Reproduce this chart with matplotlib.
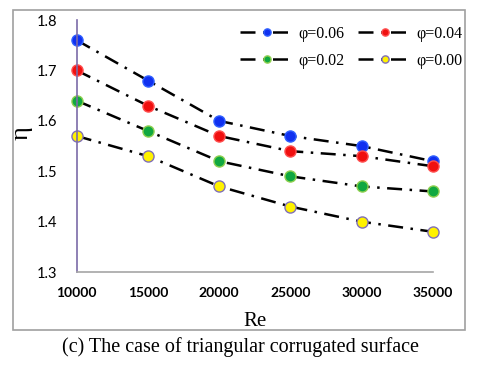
import matplotlib.pyplot as plt
from matplotlib.patches import Rectangle

# Data
re_vals = [10000, 15000, 20000, 25000, 30000, 35000]
eta_006 = [1.76, 1.68, 1.60, 1.57, 1.55, 1.52]
eta_004 = [1.70, 1.63, 1.57, 1.54, 1.53, 1.51]
eta_002 = [1.64, 1.58, 1.52, 1.49, 1.47, 1.46]
eta_000 = [1.57, 1.53, 1.47, 1.43, 1.40, 1.38]
labels = ["φ=0.06", "φ=0.04", "φ=0.02", "φ=0.00"]

series = [eta_006, eta_004, eta_002, eta_000]
fills = ["#1030F0", "#F01010", "#10A840", "#FFF200"]
edges = ["#3060FF", "#FF5050", "#90D050", "#8070B8"]

fig = plt.figure(figsize=(4.8, 3.79), dpi=100)
ax = fig.add_axes([0.160, 0.282, 0.742, 0.665])

# outer frame of the chart area
fig.patches.append(Rectangle((0.027, 0.129), 0.942, 0.845, transform=fig.transFigure,
                             fill=False, edgecolor="#A0A0A0", linewidth=1.2))

handles = []
for y, lab, fc, ec in zip(series, labels, fills, edges):
    h, = ax.plot(re_vals, y, color="black", linewidth=1.8, linestyle=(0, (6, 3, 1, 3)),
                 marker="o", markersize=8, markerfacecolor=fc, markeredgecolor=ec,
                 markeredgewidth=1.0, label=lab, clip_on=False)
    handles.append(h)

ax.set_xlim(10000, 35000)
ax.set_ylim(1.3, 1.8)
ax.set_xticks(re_vals)
ax.set_yticks([1.3, 1.4, 1.5, 1.6, 1.7, 1.8])
ax.set_yticklabels(["1.3", "1.4", "1.5", "1.6", "1.7", "1.8"], family="Lato", fontsize=10.5)
ax.set_xticklabels([str(v) for v in re_vals], family="Lato", fontweight="bold", fontsize=10)
ax.tick_params(length=0)
ax.tick_params(axis="y", pad=14)
ax.tick_params(axis="x", pad=11)

for s in ["top", "right"]:
    ax.spines[s].set_visible(False)
ax.spines["left"].set_color("#7C6BA8")
ax.spines["left"].set_linewidth(1.2)
ax.spines["bottom"].set_color("#A6A6A6")
ax.spines["bottom"].set_linewidth(1.2)

ax.set_xlabel("Re", family="Liberation Serif", fontsize=15, labelpad=9)
ax.set_ylabel("η", family="Liberation Serif", fontsize=19)
ax.yaxis.set_label_coords(-0.125, 0.55)

# row-wise legend order: 0.06, 0.04 / 0.02, 0.00
order = [0, 2, 1, 3]
ax.legend([handles[i] for i in order], [labels[i] for i in order],
          ncol=2, loc="upper right", bbox_to_anchor=(1.106, 1.01), frameon=False,
          borderpad=0, prop={"family": "Liberation Serif", "size": 11.5}, markerscale=0.65,
          handlelength=3.5, columnspacing=0.8, handletextpad=0.2, labelspacing=0.72)

fig.text(0.5, 0.085, "(c) The case of triangular corrugated surface",
         ha="center", va="center", family="Liberation Serif", fontsize=14.5)

plt.savefig("out.png", dpi=100)
plt.close()
